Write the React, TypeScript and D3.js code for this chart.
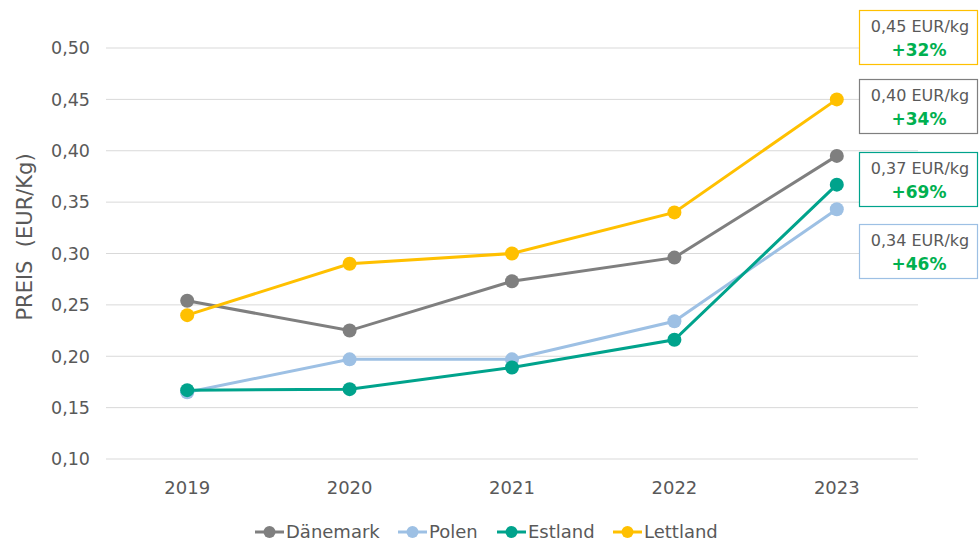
import React from "react";
import * as d3 from "d3";

const years = ["2019", "2020", "2021", "2022", "2023"];
const seriesNames = ["Dänemark", "Polen", "Estland", "Lettland"];
const daenemark = [0.254, 0.225, 0.273, 0.296, 0.395];
const polen = [0.165, 0.197, 0.197, 0.234, 0.343];
const estland = [0.167, 0.168, 0.189, 0.216, 0.367];
const lettland = [0.24, 0.29, 0.3, 0.34, 0.45];
const colors = ["#7f7f7f", "#9dc0e4", "#00a38c", "#ffc000"];
const yTicks = [0.1, 0.15, 0.2, 0.25, 0.3, 0.35, 0.4, 0.45, 0.5];
const boxValues = ["0,45 EUR/kg", "0,40 EUR/kg", "0,37 EUR/kg", "0,34 EUR/kg"];
const boxPct = ["+32%", "+34%", "+69%", "+46%"];
const boxColors = ["#ffc000", "#7f7f7f", "#00a38c", "#9dc0e4"];
const boxTops = [10, 79, 152, 224];

const W = 980, H = 545;
const font = "'DejaVu Sans', 'Open Sans', sans-serif";
const textColor = "#595959";

export default function App() {
  const x = d3.scalePoint<string>().domain(years).range([106, 918]).padding(0.5);
  const y = d3.scaleLinear().domain([0.1, 0.5]).range([459, 48]);
  const data = [daenemark, polen, estland, lettland];
  const line = d3.line<number>().x((_, i) => x(years[i])!).y((d) => y(d));
  const fmt = (v: number) => v.toFixed(2).replace(".", ",");
  const legendX = [255, 398, 497, 613];

  return (
    <svg width={W} height={H} style={{ position: "absolute", left: 0, top: 0, background: "#fff" }} fontFamily={font}>
      {yTicks.map((t) => (
        <g key={t}>
          <line x1={106} x2={918} y1={y(t)} y2={y(t)} stroke="#d9d9d9" strokeWidth={1} />
          <text x={90} y={y(t)} dy="0.36em" textAnchor="end" fontSize={17.5} fill={textColor}>{fmt(t)}</text>
        </g>
      ))}
      {years.map((yr) => (
        <text key={yr} x={x(yr)} y={494} textAnchor="middle" fontSize={18} fill={textColor}>{yr}</text>
      ))}
      <text transform="translate(32,237) rotate(-90)" textAnchor="middle" fontSize={21} fill={textColor} style={{ whiteSpace: "pre" }}>
        {"PREIS  (EUR/Kg)"}
      </text>
      {data.map((s, si) => (
        <g key={si}>
          <path d={line(s)!} fill="none" stroke={colors[si]} strokeWidth={3} />
          {s.map((v, i) => (
            <circle key={i} cx={x(years[i])} cy={y(v)} r={7} fill={colors[si]} />
          ))}
        </g>
      ))}
      {boxValues.map((bv, i) => (
        <g key={bv}>
          <rect x={859.5} y={boxTops[i] + 0.5} width={118} height={54} fill="#fff" stroke={boxColors[i]} strokeWidth={1.2} />
          <text x={920} y={boxTops[i] + 22} textAnchor="middle" fontSize={16} fill={textColor}>{bv}</text>
          <text x={919} y={boxTops[i] + 46} textAnchor="middle" fontSize={17} fontWeight="bold" fill="#00b050">{boxPct[i]}</text>
        </g>
      ))}
      {seriesNames.map((n, i) => (
        <g key={n}>
          <line x1={legendX[i]} x2={legendX[i] + 29} y1={532} y2={532} stroke={colors[i]} strokeWidth={3} />
          <circle cx={legendX[i] + 14.5} cy={532} r={6} fill={colors[i]} />
          <text x={legendX[i] + 31} y={532} dy="0.36em" fontSize={18} fill={textColor}>{n}</text>
        </g>
      ))}
    </svg>
  );
}
